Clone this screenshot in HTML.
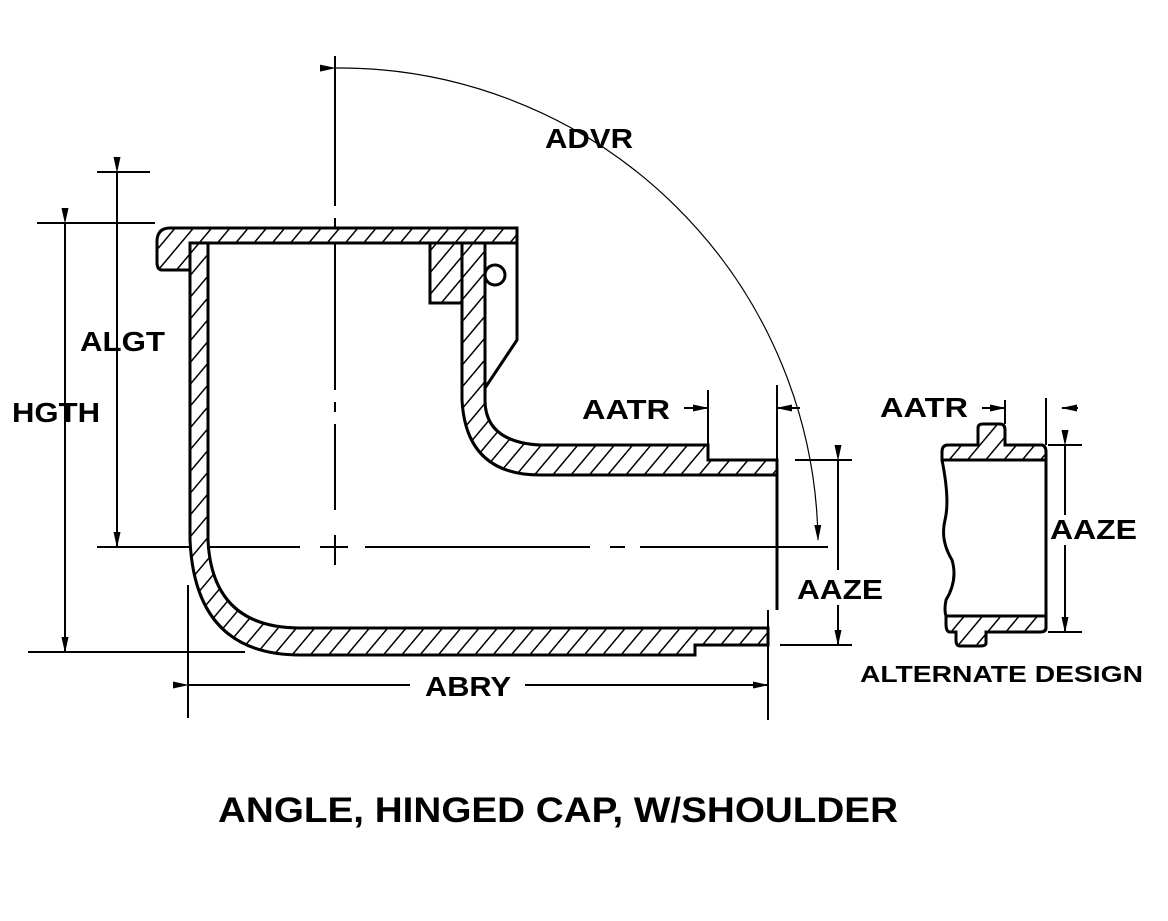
<!DOCTYPE html>
<html><head><style>
html,body{margin:0;padding:0;background:#fff;}
svg{display:block;}
text{font-family:"Liberation Sans",sans-serif;font-weight:bold;fill:#000;}
</style></head><body>
<svg width="1168" height="921" viewBox="0 0 1168 921" xmlns="http://www.w3.org/2000/svg">
<defs>
<pattern id="h" width="14" height="14" patternUnits="userSpaceOnUse" patternTransform="rotate(40)">
<rect width="14" height="14" fill="#fff"/>
<line x1="0" y1="0" x2="0" y2="14" stroke="#000" stroke-width="3"/>
</pattern>
<marker id="a" markerWidth="16" markerHeight="8" refX="15" refY="4" orient="auto" markerUnits="userSpaceOnUse">
<path d="M0,0.5 L16,4 L0,7.5 Z" fill="#000"/>
</marker>
</defs>
<g stroke="#000" fill="none">
<line x1="335" y1="56" x2="335" y2="510" stroke-width="2" stroke-dasharray="150,12,10,12"/>
<line x1="97" y1="547" x2="300" y2="547" stroke-width="2"/>
<line x1="320" y1="547" x2="348" y2="547" stroke-width="2"/>
<line x1="335" y1="535" x2="335" y2="565" stroke-width="2"/>
<line x1="365" y1="547" x2="590" y2="547" stroke-width="2"/>
<line x1="610" y1="547" x2="625" y2="547" stroke-width="2"/>
<line x1="640" y1="547" x2="828" y2="547" stroke-width="2"/>
<path d="M335,68 A479,479 0 0 1 818,540" stroke-width="1.2" marker-start="url(#a)" marker-end="url(#a)"/>
<path d="M170,228 L517,228 L517,243 L208,243 L208,270 L162,270 Q157,270 157,262 L157,240 Q158,228 170,228 Z" fill="url(#h)" stroke-width="3"/>
<line x1="190" y1="243" x2="190" y2="270" stroke-width="3"/>
<path d="M190,243 L190,540 Q195,655 300,655 L695,655 L695,645 L768,645 L768,628 L300,628 Q212,628 208,540 L208,243 Z" fill="url(#h)" stroke-width="3"/>
<path d="M462,243 L462,400 Q466,475 540,475 L777,475 L777,460 L708,460 L708,445 L540,445 Q485,442 485,400 L485,243 Z" fill="url(#h)" stroke-width="3"/>
<rect x="430" y="243" width="32" height="60" fill="url(#h)" stroke-width="3"/>
<path d="M485,243 L517,243 L517,340 L485,388" stroke-width="3"/>
<circle cx="495" cy="275" r="10" stroke-width="3" fill="#fff"/>
<line x1="777" y1="460" x2="777" y2="610" stroke-width="3"/>
<line x1="768" y1="610" x2="768" y2="720" stroke-width="2"/>
<line x1="97" y1="172" x2="150" y2="172" stroke-width="2"/>
<line x1="37" y1="223" x2="155" y2="223" stroke-width="2"/>
<line x1="28" y1="652" x2="245" y2="652" stroke-width="2"/>
<line x1="117" y1="172" x2="117" y2="547" stroke-width="2" marker-start="url(#a)" marker-end="url(#a)"/>
<line x1="65" y1="223" x2="65" y2="652" stroke-width="2" marker-start="url(#a)" marker-end="url(#a)"/>
<line x1="188" y1="585" x2="188" y2="718" stroke-width="2"/>
<line x1="188" y1="685" x2="410" y2="685" stroke-width="2" marker-start="url(#a)"/>
<line x1="525" y1="685" x2="768" y2="685" stroke-width="2" marker-end="url(#a)"/>
<line x1="795" y1="460" x2="852" y2="460" stroke-width="2"/>
<line x1="780" y1="645" x2="852" y2="645" stroke-width="2"/>
<line x1="838" y1="460" x2="838" y2="570" stroke-width="2" marker-start="url(#a)"/>
<line x1="838" y1="605" x2="838" y2="645" stroke-width="2" marker-end="url(#a)"/>
<line x1="708" y1="390" x2="708" y2="445" stroke-width="2"/>
<line x1="777" y1="385" x2="777" y2="460" stroke-width="2"/>
<line x1="684" y1="408" x2="708" y2="408" stroke-width="2" marker-end="url(#a)"/>
<line x1="800" y1="408" x2="777" y2="408" stroke-width="2" marker-end="url(#a)"/>
<path d="M978,445 L978,428 Q978,424 983,424 L1000,424 Q1005,424 1005,430 L1005,445 L1042,445 Q1046,446 1046,452 L1046,460 L942,460 L942,452 Q942,445 948,445 Z" fill="url(#h)" stroke-width="3"/>
<path d="M946,616 L1046,616 L1046,628 Q1046,632 1040,632 L986,632 L986,643 Q986,646 980,646 L960,646 Q956,646 956,640 L956,632 L950,632 Q946,632 946,624 Z" fill="url(#h)" stroke-width="3"/>
<path d="M942,460 Q950,500 945,520 Q940,540 952,560 Q958,580 946,600 Q944,610 946,616" stroke-width="3"/>
<line x1="1046" y1="460" x2="1046" y2="616" stroke-width="3"/>
<line x1="982" y1="408" x2="1005" y2="408" stroke-width="2" marker-end="url(#a)"/>
<line x1="1005" y1="400" x2="1005" y2="424" stroke-width="2"/>
<line x1="1046" y1="398" x2="1046" y2="445" stroke-width="2"/>
<line x1="1078" y1="408" x2="1062" y2="408" stroke-width="2" marker-end="url(#a)"/>
<line x1="1048" y1="445" x2="1082" y2="445" stroke-width="2"/>
<line x1="1048" y1="632" x2="1082" y2="632" stroke-width="2"/>
<line x1="1065" y1="445" x2="1065" y2="515" stroke-width="2" marker-start="url(#a)"/>
<line x1="1065" y1="545" x2="1065" y2="632" stroke-width="2" marker-end="url(#a)"/>
</g>
<text x="545" y="148" font-size="28" textLength="88" lengthAdjust="spacingAndGlyphs">ADVR</text>
<text x="80" y="351" font-size="28" textLength="85" lengthAdjust="spacingAndGlyphs">ALGT</text>
<text x="12" y="422" font-size="28" textLength="88" lengthAdjust="spacingAndGlyphs">HGTH</text>
<text x="582" y="419" font-size="28" textLength="88" lengthAdjust="spacingAndGlyphs">AATR</text>
<text x="797" y="599" font-size="28" textLength="86" lengthAdjust="spacingAndGlyphs">AAZE</text>
<text x="425" y="696" font-size="28" textLength="86" lengthAdjust="spacingAndGlyphs">ABRY</text>
<text x="880" y="417" font-size="28" textLength="88" lengthAdjust="spacingAndGlyphs">AATR</text>
<text x="1050" y="539" font-size="28" textLength="87" lengthAdjust="spacingAndGlyphs">AAZE</text>
<text x="860" y="682" font-size="23" textLength="283" lengthAdjust="spacingAndGlyphs">ALTERNATE DESIGN</text>
<text x="218" y="822" font-size="35" textLength="680" lengthAdjust="spacingAndGlyphs">ANGLE, HINGED CAP,  W/SHOULDER</text>
</svg>
</body></html>
